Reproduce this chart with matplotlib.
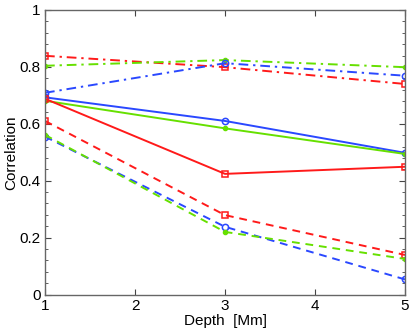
import matplotlib
matplotlib.use('Agg')
import matplotlib.pyplot as plt
from matplotlib.ticker import MultipleLocator, FuncFormatter

plt.rcParams['font.family'] = ['Liberation Sans', 'DejaVu Sans']

# data
depth = [1, 3, 5]

blue_solid = [0.693, 0.610, 0.498]
green_solid = [0.681, 0.584, 0.494]
red_solid = [0.688, 0.424, 0.449]

blue_dash = [0.555, 0.238, 0.053]
green_dash = [0.561, 0.220, 0.125]
red_dash = [0.610, 0.279, 0.139]

blue_dashdot = [0.709, 0.813, 0.769]
green_dashdot = [0.804, 0.824, 0.799]
red_dashdot = [0.839, 0.799, 0.740]

blue = '#2a48ff'
green = '#66e000'
red = '#ff1a1a'

fig = plt.figure(figsize=(4.15, 3.31), dpi=100)
ax = fig.add_axes([45/415, 1 - 294.5/331, 360/415, 284.5/331])

lw = 1.4
ms = 4.5
mk = dict(markerfacecolor='none', markeredgewidth=1.1)
dash = (0, (4, 3))
dashdot = (0, (5, 2.5, 1.2, 2.5))

ax.plot(depth, red_dashdot, ls=dashdot, color=red, marker='s', ms=ms, lw=lw, **mk)
ax.plot(depth, green_dashdot, ls=dashdot, color=green, marker='.', ms=6, lw=lw)
ax.plot(depth, blue_dashdot, ls=dashdot, color=blue, marker='o', ms=ms, lw=lw, **mk)

ax.plot(depth, blue_solid, '-', color=blue, marker='o', ms=ms, lw=lw, **mk)
ax.plot(depth, green_solid, '-', color=green, marker='.', ms=6, lw=lw)
ax.plot(depth, red_solid, '-', color=red, marker='s', ms=ms, lw=lw, **mk)

ax.plot(depth, red_dash, ls=dash, color=red, marker='s', ms=ms, lw=lw, **mk)
ax.plot(depth, blue_dash, ls=dash, color=blue, marker='o', ms=ms, lw=lw, **mk)
ax.plot(depth, green_dash, ls=dash, color=green, marker='.', ms=6, lw=lw)

ax.set_xlim(1, 5)
ax.set_ylim(0, 1)
ax.xaxis.set_major_locator(MultipleLocator(1))
ax.yaxis.set_major_locator(MultipleLocator(0.2))
ax.yaxis.set_minor_locator(MultipleLocator(0.04))
ax.yaxis.set_major_formatter(FuncFormatter(lambda v, p: '%g' % round(v, 2)))

ax.tick_params(which='both', direction='in', top=True, right=True,
               labelsize=11, colors='#444444', labelcolor='black', pad=3)
ax.tick_params(which='major', length=4)
ax.tick_params(which='minor', length=2)
for s in ax.spines.values():
    s.set_color('#666666')
    s.set_linewidth(1.0)

ax.set_xlabel('Depth  [Mm]', fontsize=11, labelpad=1)
ax.set_ylabel('Correlation', fontsize=11, labelpad=1)

fig.savefig('out.png', dpi=100)
